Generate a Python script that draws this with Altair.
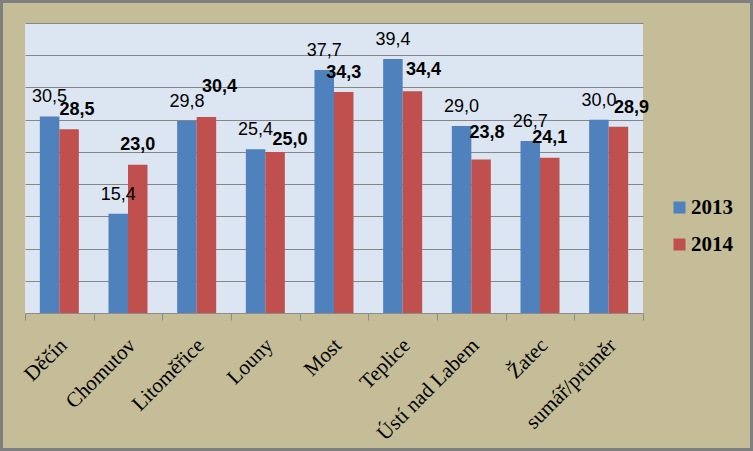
import altair as alt
import pandas as pd

categories = ["Děčín", "Chomutov", "Litoměřice", "Louny", "Most", "Teplice",
              "Ústí nad Labem", "Žatec", "sumář/průměr"]
values_2013 = [30.5, 15.4, 29.8, 25.4, 37.7, 39.4, 29.0, 26.7, 30.0]
values_2014 = [28.5, 23.0, 30.4, 25.0, 34.3, 34.4, 23.8, 24.1, 28.9]
years = ["2013", "2014"]
colors = ["#4F81BD", "#C0504D"]

# manual nudges (px) of the 2014 data labels, as dragged in the original
label_nudge_2014 = [(8, 0), (0, -1), (13, -11), (15, 7), (0, 0),
                    (11, -2), (6, -8), (0, -1), (13, 0)]

rows = []
for i, c in enumerate(categories):
    for yr, vals in zip(years, [values_2013, values_2014]):
        v = vals[i]
        rows.append({"cat": c, "year": yr, "value": v,
                     "label": f"{v:.1f}".replace(".", ",")})
df = pd.DataFrame(rows)

W, H = 618, 290
PL, PT = 25, 23
TOTAL_W, TOTAL_H = 753, 451

x = alt.X("cat:N", sort=categories,
          scale=alt.Scale(paddingInner=0, paddingOuter=0),
          axis=alt.Axis(title=None, labelAngle=-45, labelAlign="right",
                        labelBaseline="middle", labelFont="Liberation Serif",
                        labelFontSize=21, labelColor="black", labelPadding=22,
                        labelOffset=4,
                        tickBand="extent", tickSize=7, tickColor="#8C8C8C",
                        domainColor="#8C8C8C", grid=False, labelLimit=0))
xo = alt.XOffset("year:N", sort=years,
                 scale=alt.Scale(paddingInner=0, paddingOuter=0.76))
y = alt.Y("value:Q", scale=alt.Scale(domain=[0, 45], nice=False),
          axis=alt.Axis(title=None, values=list(range(0, 50, 5)), labels=False,
                        ticks=False, domain=False, grid=True,
                        gridColor="#868686", gridWidth=1))
color = alt.Color("year:N",
                  scale=alt.Scale(domain=years, range=colors),
                  legend=alt.Legend(orient="none", legendX=644, legendY=174,
                                    title=None, symbolType="square",
                                    symbolSize=144, symbolStrokeWidth=0,
                                    labelFont="Liberation Serif",
                                    labelFontSize=21, labelFontWeight="bold",
                                    labelColor="black", rowPadding=15,
                                    padding=0, labelOffset=1))

base = alt.Chart(df)
bars = base.mark_bar().encode(x=x, xOffset=xo, y=y, color=color)

layers = [bars]
lab13 = base.transform_filter(alt.datum.year == "2013").mark_text(
    font="Liberation Sans", fontSize=18, baseline="alphabetic", dy=-14,
    color="black").encode(x=x, xOffset=xo, y=y, text="label:N")
layers.append(lab13)

for c, (ndx, ndy) in zip(categories, label_nudge_2014):
    lab = base.transform_filter(
        (alt.datum.year == "2014") & (alt.datum.cat == c)
    ).mark_text(font="Liberation Sans", fontSize=18, fontWeight="bold",
                baseline="alphabetic", dx=ndx, dy=-14 + ndy,
                color="black").encode(x=x, xOffset=xo, y=y, text="label:N")
    layers.append(lab)

frame = alt.Chart(alt.Data(values=[{}])).mark_rect(
    fillOpacity=0, stroke="#7F7F7F", strokeWidth=3).encode(
    x=alt.value(-PL + 1.5), x2=alt.value(TOTAL_W - PL - 1.5),
    y=alt.value(-PT + 1.5), y2=alt.value(TOTAL_H - PT - 1.5))
layers.append(frame)

chart = alt.layer(*layers).properties(
    width=W, height=H,
    padding={"left": PL, "top": PT, "right": TOTAL_W - PL - W,
             "bottom": TOTAL_H - PT - H},
    autosize=alt.AutoSizeParams(type="none"),
).configure(background="#C4BD97").configure_view(fill="#DCE6F2", strokeWidth=0)

chart.save("out.html", embed_options={"renderer": "svg", "actions": False})
